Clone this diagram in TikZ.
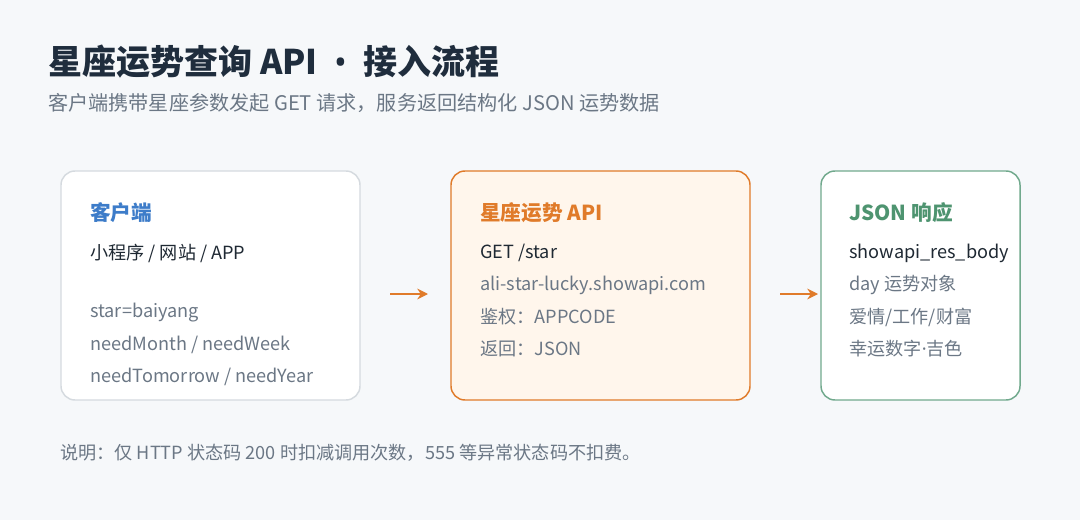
\documentclass[tikz,border=0pt]{standalone}
\usepackage{fontspec}
\setmainfont{Noto Sans CJK SC}
\newfontfamily\lat{Noto Sans}
\usetikzlibrary{arrows.meta}
\definecolor{bg}{HTML}{F6F8FA}
\definecolor{ttl}{HTML}{1F2D3D}
\definecolor{sub}{HTML}{6B7785}
\definecolor{dark}{HTML}{1F2933}
\definecolor{blu}{HTML}{3D7CC9}
\definecolor{org}{HTML}{E07B2A}
\definecolor{orgf}{HTML}{FFF6EC}
\definecolor{grn}{HTML}{4E9470}
\definecolor{bord}{HTML}{D5DADF}
\begin{document}
\begin{tikzpicture}[x=0.75pt,y=-0.75pt,
 box/.style={draw,line width=1.1pt,rounded corners=10.5pt},
 t/.style={anchor=west,inner sep=0pt},
 hd/.style={t,font=\fontsize{15.5}{18}\selectfont\bfseries},
 ln/.style={t,font=\fontsize{13.6}{16}\selectfont,text=dark},
 lg/.style={t,font=\fontsize{13.6}{16}\selectfont,text=sub},
 arr/.style={-{Stealth[length=8pt,width=8pt]},line width=1.6pt,org}]
\fill[bg] (0,0) rectangle (1080,520);
\node[t,font=\fontsize{25.5}{28}\selectfont\bfseries,text=ttl] (title) at (48,62) {星座运势查询 API {\lat\ • } 接入流程};
\node[t,font=\fontsize{15.1}{17}\selectfont,text=sub] (subt) at (48,103) {客户端携带星座参数发起 GET 请求，服务返回结构化 JSON 运势数据};
\draw[box,bord,fill=white] (61,171) rectangle (360,400);
\draw[box,org,fill=orgf] (451,171) rectangle (750,400);
\draw[box,grn!80,fill=white] (821,171) rectangle (1020,400);
\node[hd,text=blu] (h1) at (90,213) {客户端};
\node[ln] (a1) at (90,253) {小程序 / 网站 / APP};
\node[lg] (a2) at (90,313) {star=baiyang};
\node[lg] (a3) at (90,345) {needMonth / needWeek};
\node[lg] (a4) at (90,377) {needTomorrow / needYear};
\node[hd,text=org] (h2) at (480,213) {星座运势 API};
\node[ln] (b1t) at (480,253) {GET /star};
\node[lg] (b2) at (480,285) {ali-star-lucky.showapi.com};
\node[lg] (b3) at (480,317) {鉴权：APPCODE};
\node[lg] (b4) at (480,349) {返回：JSON};
\node[hd,text=grn] (h3) at (849,213) {JSON 响应};
\node[ln] (c1) at (849,253) {showapi\_res\_body};
\node[lg] (c2) at (849,285) {day 运势对象};
\node[lg] (c3) at (849,317) {爱情/工作/财富};
\node[lg] (c4) at (849,349) {幸运数字{\lat·}吉色};
\coordinate (p1) at (390,294); \coordinate (q1) at (428,294);
\coordinate (p2) at (780,294); \coordinate (q2) at (818,294);
\draw[arr] (p1) -- (q1);
\draw[arr] (p2) -- (q2);
\node[t,font=\fontsize{13.6}{16}\selectfont,text=sub] (note) at (60,453) {说明：仅 HTTP 状态码 200 时扣减调用次数，555 等异常状态码不扣费。};
\end{tikzpicture}
\end{document}
